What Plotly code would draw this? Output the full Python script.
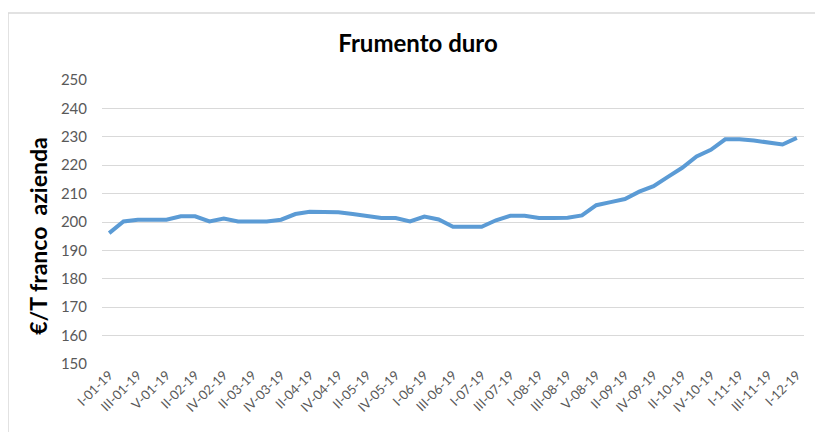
import plotly.graph_objects as go

months = ["01", "02", "03", "04", "05", "06", "07", "08", "09", "10", "11", "12"]
weeks_per_month = [5, 4, 4, 4, 5, 4, 4, 5, 4, 5, 4, 1]
roman = ["I", "II", "III", "IV", "V"]
categories = [f"{roman[w]}-{m}-19" for m, n in zip(months, weeks_per_month) for w in range(n)]

prices = [196.1, 200.2, 200.8, 200.8, 200.8, 202.0, 202.0, 200.2, 201.2, 200.2,
          200.2, 200.2, 200.8, 202.8, 203.6, 203.4, 203.4, 202.8, 202.1, 201.4,
          201.4, 200.2, 201.9, 200.9, 198.3, 198.3, 198.3, 200.6, 202.2, 202.2,
          201.4, 201.4, 201.5, 202.3, 205.9, 207.0, 208.1, 210.7, 212.6, 215.9,
          219.1, 223.1, 225.4, 229.1, 229.1, 228.7, 227.9, 227.3, 229.6]

y_ticks = [150, 160, 170, 180, 190, 200, 210, 220, 230, 240, 250]
shown_labels = categories[::2]

fig = go.Figure()
fig.add_trace(go.Scatter(
    x=categories, y=prices, mode="lines",
    line=dict(color="#5B9BD5", width=4),
    hoverinfo="x+y", showlegend=False,
))

# page has an 8px body margin, so figure coordinates = page coordinates - 8
W, H = 815, 424
ml, mt = 94, 72
pw, ph = 702, 284.5
mr, mb = W - ml - pw, H - mt - ph


def px(x):
    return (x - ml) / pw


def py(y):
    return (mt + ph - y) / ph


fig.update_layout(
    width=W, height=H,
    margin=dict(l=ml, r=mr, t=mt, b=mb, autoexpand=False),
    paper_bgcolor="white", plot_bgcolor="white",
    font=dict(family="Lato, Open Sans, sans-serif", color="#595959"),
    title=dict(text="<b>Frumento duro</b>", x=410 / W, xanchor="center", y=1 - 36 / H, yanchor="middle",
               xref="container", yref="container",
               font=dict(size=24, color="#000000", family="Lato, sans-serif")),
    xaxis=dict(
        type="category", categoryorder="array", categoryarray=categories,
        tickmode="array", tickvals=shown_labels, ticktext=shown_labels,
        tickangle=-45, tickfont=dict(size=13, color="#595959"),
        showgrid=False, showline=False, ticks="", zeroline=False, automargin=False,
        range=[-0.5, len(categories) - 0.5],
    ),
    yaxis=dict(
        range=[150, 250], tickvals=y_ticks, showgrid=True, gridcolor="#D9D9D9", gridwidth=1,
        tickfont=dict(size=15, color="#595959"), ticks="", showline=False, zeroline=False,
        ticklen=0, ticklabelstandoff=14, automargin=False,
    ),
    shapes=[dict(type="rect", xref="paper", yref="paper",
                 x0=px(0), x1=px(840), y0=py(450), y1=py(5),
                 line=dict(color="#D9D9D9", width=1.5), layer="below")],
    annotations=[dict(text="<b>€/T franco  azienda</b>", textangle=-90, xref="paper", yref="paper",
                      x=px(30), y=py(229),
                      xanchor="center", yanchor="middle", showarrow=False,
                      font=dict(size=23, color="#000000", family="Lato, sans-serif"))],
)

fig.write_html("out.html")
